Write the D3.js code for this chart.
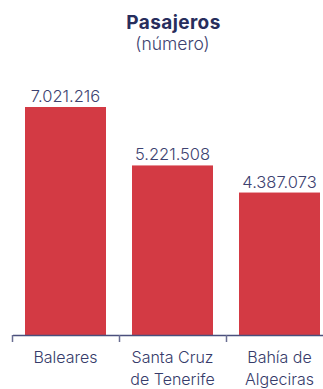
<!DOCTYPE html>
<html>
<head>
<meta charset="utf-8">
<script src="https://cdn.jsdelivr.net/npm/d3@7"></script>
<style>
  html, body { margin: 0; padding: 0; background: #ffffff; }
  svg { display: block; font-family: Inter, "Noto Sans", sans-serif; }
</style>
</head>
<body>
<svg id="chart" width="323" height="389"></svg>
<script>
// Passenger totals by port authority
const categories = ["Baleares", "Santa Cruz de Tenerife", "Bahía de Algeciras"];
const categoryLines = [["Baleares"], ["Santa Cruz", "de Tenerife"], ["Bahía de", "Algeciras"]];
const passengers = [7021216, 5221508, 4387073];
const title = "Pasajeros";
const subtitle = "(número)";

const W = 323, H = 389;
const baseline = 335;
const plotTop = 107;

const svg = d3.select("#chart");

const fmt = d3.formatLocale({ decimal: ",", thousands: ".", grouping: [3], currency: ["", " €"] }).format(",d");

const x = d3.scaleBand()
  .domain(categories)
  .range([12, 333])
  .paddingInner(0.243)
  .paddingOuter(0.1215);

const y = d3.scaleLinear()
  .domain([0, d3.max(passengers)])
  .range([baseline, plotTop]);

// Title block
svg.append("text")
  .attr("x", 173.5).attr("y", 29)
  .attr("text-anchor", "middle")
  .attr("font-size", 19).attr("font-weight", 700)
  .attr("letter-spacing", 0.4)
  .attr("fill", "#272d5c")
  .text(title);

svg.append("text")
  .attr("x", 172.5).attr("y", 50)
  .attr("text-anchor", "middle")
  .attr("font-size", 17.5).attr("font-weight", 300)
  .attr("fill", "#3d4270")
  .text(subtitle);

// Bars
svg.append("g").selectAll("rect")
  .data(categories)
  .join("rect")
  .attr("x", d => x(d))
  .attr("width", x.bandwidth())
  .attr("y", (d, i) => y(passengers[i]))
  .attr("height", (d, i) => baseline - y(passengers[i]))
  .attr("fill", "#d33a44");

// Value labels
svg.append("g").selectAll("text")
  .data(categories)
  .join("text")
  .attr("x", d => x(d) + x.bandwidth() / 2)
  .attr("y", (d, i) => y(passengers[i]) - 5)
  .attr("text-anchor", "middle")
  .attr("font-size", 16.5).attr("font-weight", 300)
  .attr("fill", "#3d4270")
  .text((d, i) => fmt(passengers[i]));

// Category axis with ticks at band boundaries
const axisG = svg.append("g");
const gap = x.step() * x.paddingInner() / 2;
axisG.append("line")
  .attr("x1", 13).attr("x2", W)
  .attr("y1", baseline + 0.5).attr("y2", baseline + 0.5)
  .attr("stroke", "#4a4f7c").attr("stroke-width", 1.5);

axisG.selectAll("line.tick")
  .data(categories)
  .join("line")
  .attr("class", "tick")
  .attr("x1", d => Math.round(x(d) - gap) + 0.5)
  .attr("x2", d => Math.round(x(d) - gap) + 0.5)
  .attr("y1", baseline).attr("y2", baseline + 7)
  .attr("stroke", "#6a6e92").attr("stroke-width", 1.5);

const catText = axisG.selectAll("text.cat")
  .data(categories)
  .join("text")
  .attr("class", "cat")
  .attr("text-anchor", "middle")
  .attr("font-size", 16).attr("font-weight", 300)
  .attr("fill", "#363b6a")
  .attr("transform", d => `translate(${x(d) + x.bandwidth() / 2},363)`);

catText.selectAll("tspan")
  .data((d, i) => categoryLines[i])
  .join("tspan")
  .attr("x", 0)
  .attr("dy", (l, j) => j === 0 ? 0 : 22)
  .text(l => l);
</script>
</body>
</html>
